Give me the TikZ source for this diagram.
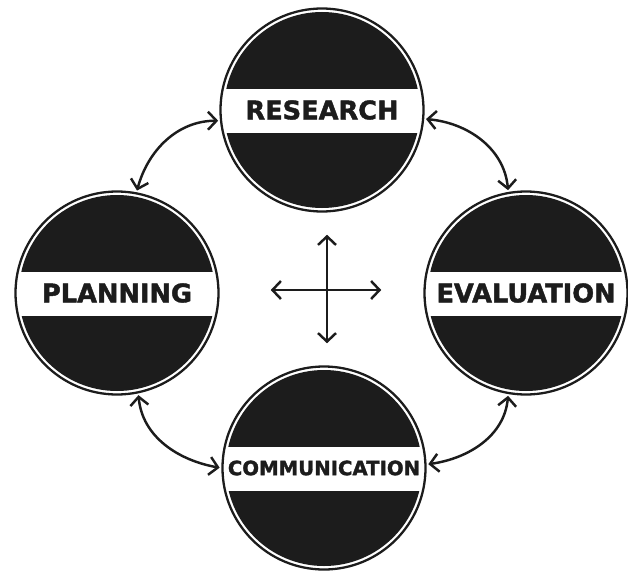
\documentclass[tikz,border=0pt]{standalone}
\usepackage{fontspec}
\usepackage{xcolor}
\usepackage{tikz}
\usetikzlibrary{arrows.meta}
\newfontfamily\stagefont{DejaVu Sans}[BoldFeatures={FakeBold=1.6}]
\definecolor{inkblack}{RGB}{28, 28, 28}

\begin{document}
\begin{tikzpicture}[
  stage/.style={circle, draw=inkblack, line width=1.3pt, fill=white, minimum size=4.06cm, inner sep=0pt, font=\stagefont\bfseries\fontsize{14.6}{14.6}\selectfont, text=inkblack,
    path picture={
      \fill[inkblack] (path picture bounding box.center) circle (1.96cm);
      \fill[white] ([yshift=-0.45cm]path picture bounding box.west) rectangle ([yshift=0.43cm]path picture bounding box.east);
    }},
  cycle/.style={{Straight Barb[length=1.7mm,width=3.6mm]}-{Straight Barb[length=1.7mm,width=3.6mm]}, line width=1.4pt, color=inkblack, shorten <=1pt, shorten >=1pt}
]
\useasboundingbox (0,0) rectangle (12.56,11.42);

\node[stage] (res) at (6.44,9.22) {RESEARCH};
\node[stage] (plan) at (2.34,5.56) {PLANNING};
\node[stage] (eval) at (10.52,5.56) {EVALUATION};
\node[stage, font=\stagefont\bfseries\fontsize{11.2}{11.2}\selectfont] (comm) at (6.48,2.06) {COMMUNICATION};

% links round the cycle
\draw[cycle] (plan.79) to[out=75, in=180] (res.186);
\draw[cycle] (res.-5) to[out=-5, in=95] (eval.100);
\draw[cycle] (plan.-78) to[out=-85, in=170] (comm.180);
\draw[cycle] (eval.-100) to[out=-95, in=8] (comm.2);

% cross in the middle
\coordinate (hub n) at (6.54,6.76);
\coordinate (hub s) at (6.54,4.52);
\coordinate (hub w) at (5.38,5.62);
\coordinate (hub e) at (7.66,5.62);
\draw[cycle] (hub s) -- (hub n);
\draw[cycle] (hub w) -- (hub e);
\end{tikzpicture}
\end{document}
